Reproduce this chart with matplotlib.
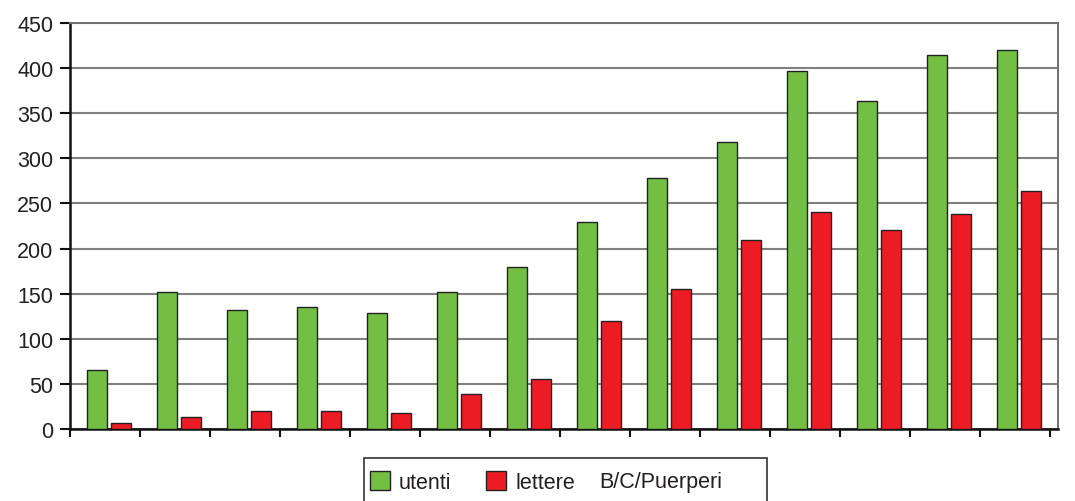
import numpy as np
import matplotlib.pyplot as plt
from matplotlib.patches import Patch, Rectangle

plt.rcParams['font.family'] = ['Liberation Sans', 'DejaVu Sans']

series = ['utenti', 'lettere', 'B/C/Puerperi']
utenti = [65, 152, 132, 135, 129, 152, 180, 229, 278, 318, 397, 364, 414, 420]
lettere = [7, 13, 20, 20, 18, 39, 55, 120, 155, 209, 241, 221, 238, 264]
yticks = [0, 50, 100, 150, 200, 250, 300, 350, 400, 450]

green = '#72bf44'
red = '#ed1c24'
txt = '#231f20'

W, H = 1075, 502
fig = plt.figure(figsize=(W / 100, H / 100), dpi=100)
ax = fig.add_axes([70 / W, 1 - 430 / H, 988 / W, 406 / H])

x = np.arange(len(utenti))
w = 0.28
ax.bar(x + 0.385, utenti, w, color=green, edgecolor='#222222', linewidth=1, zorder=3)
ax.bar(x + 0.725, lettere, w, color=red, edgecolor='#222222', linewidth=1, zorder=3)

ax.set_xlim(0, 14.11)
ax.set_ylim(0, 450)
ax.set_yticks(yticks)
ax.set_xticks(np.arange(len(utenti) + 1))
ax.set_xticklabels([])
ax.yaxis.grid(True, color='#808080', linewidth=1.5, zorder=1)
ax.tick_params(axis='y', direction='out', length=7, width=1.5, color='#111111',
               labelsize=15.5, labelcolor=txt, pad=5)
ax.tick_params(axis='x', direction='out', length=6, width=1.5, color='#111111')

for s in ['left', 'bottom']:
    ax.spines[s].set_color('#111111')
    ax.spines[s].set_linewidth(1.8)
for s in ['top', 'right']:
    ax.spines[s].set_color('#707070')
    ax.spines[s].set_linewidth(1.4)

# legend: frame, two patches, and a label without a patch
fig.patches.append(Rectangle((364 / W, -0.05), 403 / W, 1 - 459 / H + 0.05,
                             transform=fig.transFigure, facecolor='none',
                             edgecolor='#333333', linewidth=1.2))
handles = [Patch(facecolor=green, edgecolor='#222222'),
           Patch(facecolor=red, edgecolor='#222222')]
fig.legend(handles, series[:2], loc='center left', bbox_to_anchor=(370 / W, 1 - 483 / H),
           ncol=2, frameon=False, fontsize=15.5, borderpad=0, borderaxespad=0,
           handlelength=0.95, handleheight=0.95, handletextpad=0.4, columnspacing=1.6,
           labelcolor=txt)
fig.text(599 / W, 1 - 483 / H, series[2], fontsize=15.5, color=txt, ha='left', va='center')

fig.savefig('out.png', dpi=100)
